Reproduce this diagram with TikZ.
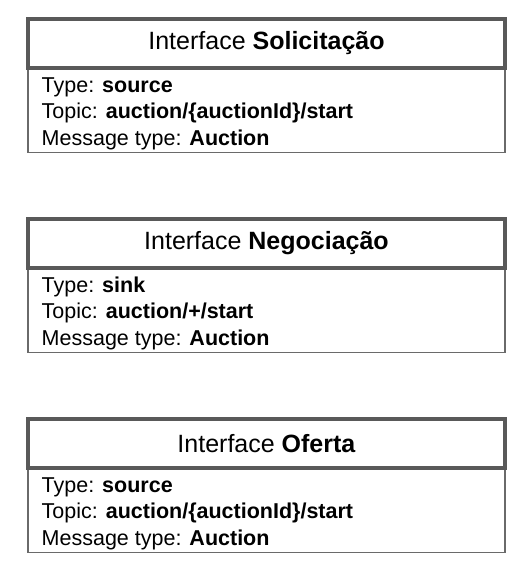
\documentclass[tikz,border=0pt]{standalone}
\usepackage{fontspec}
\setmainfont{Liberation Sans}
\begin{document}
\begin{tikzpicture}[x=1pt,y=-1pt,
  headbox/.style={draw=headgray, line width=3.6pt, fill=white, minimum width=477pt,
    minimum height=49pt, inner sep=0pt, font=\fontsize{25}{29}\selectfont},
  bodybox/.style={draw=bodygray, line width=1.8pt, fill=white, minimum width=477pt,
    minimum height=83.5pt, inner sep=0pt},
  entry/.style={anchor=base west, inner sep=0pt, font=\fontsize{21.5}{25}\selectfont}]
\definecolor{headgray}{HTML}{595959}
\definecolor{bodygray}{HTML}{6A6A6A}
\useasboundingbox[fill=white] (0,0) rectangle (532,568);

% Interface Solicitação
\node[bodybox, anchor=north] (b1) at (266.5,68) {};
\node[headbox] (h1) at (266.5,43.5) {Interface \textbf{Solicitação}};
\node[entry] (t1) at (41.5,92) {Type: \textbf{source}};
\node[entry] (p1) at (41.5,118.5) {Topic: \textbf{auction/\{auctionId\}/start}};
\node[entry] (m1) at (41.5,145) {Message type: \textbf{Auction}};

% Interface Negociação
\node[bodybox, anchor=north] (b2) at (266.5,268) {};
\node[headbox] (h2) at (266.5,243.5) {Interface \textbf{Negociação}};
\node[entry] (t2) at (41.5,292) {Type: \textbf{sink}};
\node[entry] (p2) at (41.5,318.5) {Topic: \textbf{auction/+/start}};
\node[entry] (m2) at (41.5,345) {Message type: \textbf{Auction}};

% Interface Oferta
\node[bodybox, anchor=north] (b3) at (266.5,468) {};
\node[headbox] (h3) at (266.5,443.5) {Interface \textbf{Oferta}};
\node[entry] (t3) at (41.5,492) {Type: \textbf{source}};
\node[entry] (p3) at (41.5,518.5) {Topic: \textbf{auction/\{auctionId\}/start}};
\node[entry] (m3) at (41.5,545) {Message type: \textbf{Auction}};
\end{tikzpicture}
\end{document}
